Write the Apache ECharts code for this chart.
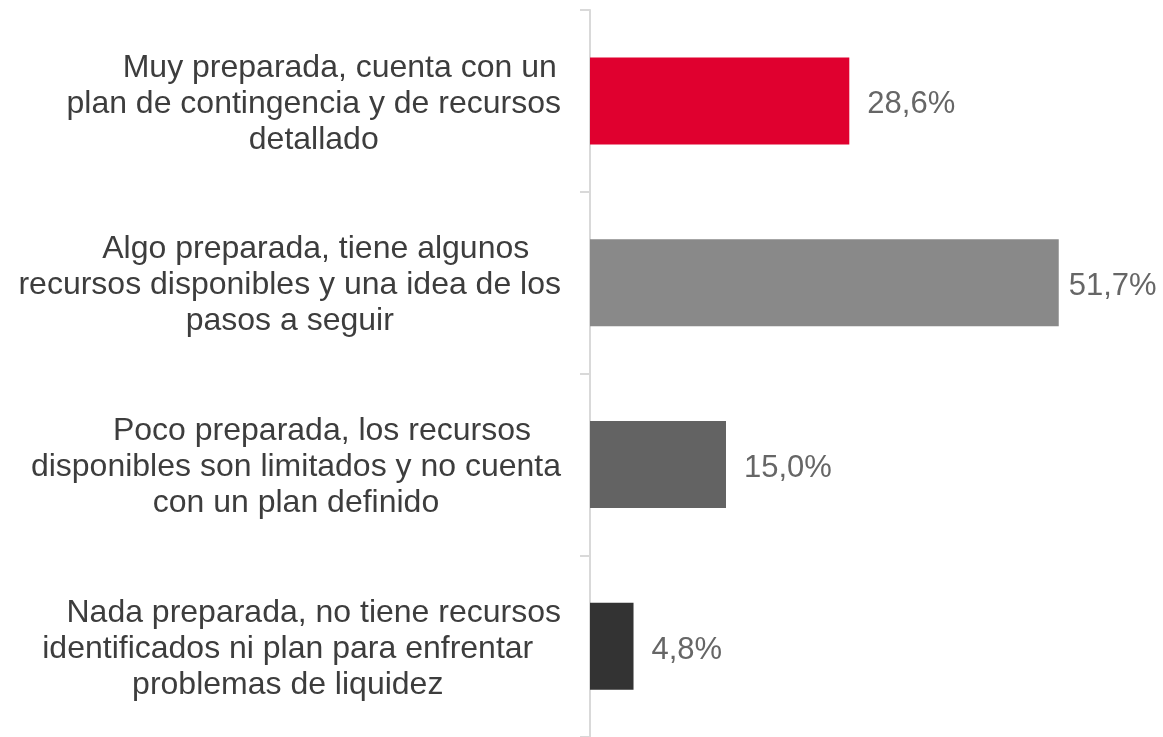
<!DOCTYPE html>
<html>
<head>
<meta charset="utf-8">
<script src="https://cdn.jsdelivr.net/npm/echarts@6/dist/echarts.min.js"></script>
<style>
  html, body { margin: 0; padding: 0; background: #fff; }
  #chart { width: 1163px; height: 737px; }
</style>
</head>
<body>
<div id="chart"></div>
<script>
// categorias (con saltos de linea como en el original)
const categories = [
  "Muy preparada, cuenta con un\nplan de contingencia y de recursos\ndetallado",
  "Algo preparada, tiene algunos\nrecursos disponibles y una idea de los\npasos a seguir",
  "Poco preparada, los recursos\ndisponibles son limitados y no cuenta\ncon un plan definido",
  "Nada preparada, no tiene recursos\nidentificados ni plan para enfrentar\nproblemas de liquidez"
];
const values = [28.6, 51.7, 15.0, 4.8];
const barColors = ["#e0002f", "#898989", "#636363", "#333333"];

const FONT = "'Liberation Sans', Arial, sans-serif";

const chart = echarts.init(document.getElementById("chart"));

const option = {
  animation: false,
  grid: {
    left: 590,
    right: 29,
    top: 10,
    bottom: -5
  },
  xAxis: {
    type: "value",
    min: 0,
    max: 60,
    show: false
  },
  yAxis: {
    type: "category",
    inverse: true,
    data: categories,
    axisLine: { show: true, lineStyle: { color: "#d9d9d9", width: 2 } },
    axisTick: { show: true, length: 10, lineStyle: { color: "#d9d9d9", width: 2 } },
    axisLabel: {
      margin: 29,
      padding: [6, 0, 0, 0],
      formatter: function (value) {
        return value.split("\n").map(function (line, i) {
          return "{" + (i === 0 ? "first" : "line") + "|" + line + "}";
        }).join("\n");
      },
      rich: {
        first: {
          align: "center",
          padding: [0, 0, 0, 52],
          fontSize: 32,
          lineHeight: 36,
          fontFamily: FONT,
          color: "#3d3d3d"
        },
        line: {
          align: "center",
          fontSize: 32,
          lineHeight: 36,
          fontFamily: FONT,
          color: "#3d3d3d"
        }
      }
    }
  },
  series: [
    {
      type: "bar",
      barWidth: 87,
      data: values.map(function (v, i) {
        return {
          value: v,
          itemStyle: { color: barColors[i] },
          label: { distance: v > 50 ? 10 : 18 }
        };
      }),
      label: {
        show: true,
        position: "right",
        fontSize: 31,
        fontFamily: FONT,
        color: "#666666",
        offset: [0, 4],
        formatter: function (p) {
          return p.value.toFixed(1).replace(".", ",") + "%";
        }
      }
    }
  ]
};

chart.setOption(option);
window.addEventListener("resize", function () { chart.resize(); });
</script>
</body>
</html>
